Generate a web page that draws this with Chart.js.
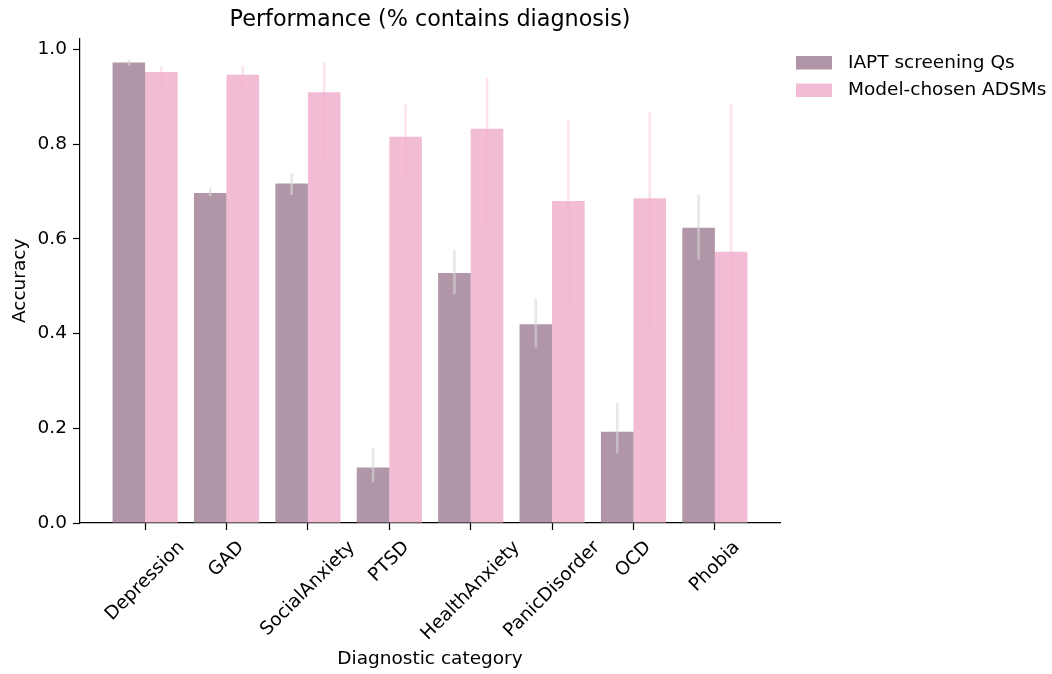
<!DOCTYPE html>
<html>
<head>
<meta charset="utf-8">
<script src="https://cdn.jsdelivr.net/npm/chart.js@4.4.1/dist/chart.umd.min.js"></script>
<style>
  html, body { margin: 0; padding: 0; background: #fff; }
</style>
</head>
<body>
<canvas id="grafico" width="1052" height="674"></canvas>
<script>
/* ============== Dados ===========*/
const categorias = ['Depression', 'GAD', 'SocialAnxiety', 'PTSD', 'HealthAnxiety', 'PanicDisorder', 'OCD', 'Phobia'];

const iapt = [0.973, 0.697, 0.717, 0.117, 0.528, 0.420, 0.193, 0.624];
const iaptLow = [0.966, 0.690, 0.693, 0.086, 0.484, 0.371, 0.147, 0.556];
const iaptHigh = [0.979, 0.709, 0.739, 0.158, 0.577, 0.474, 0.253, 0.693];

const adsm = [0.953, 0.947, 0.910, 0.816, 0.833, 0.680, 0.686, 0.573];
const adsmLow = [0.921, 0.918, 0.760, 0.726, 0.621, 0.448, 0.417, 0.189];
const adsmHigh = [0.965, 0.966, 0.973, 0.884, 0.941, 0.850, 0.869, 0.886];

const yTicks = [0.0, 0.2, 0.4, 0.6, 0.8, 1.0];

const fonte = "'DejaVu Sans', sans-serif";
const tam = 18.5;

/* ============== Plugins ===========*/
const erros = [
  { low: iaptLow, high: iaptHigh, color: 'rgba(215, 215, 215, 0.6)' },
  { low: adsmLow, high: adsmHigh, color: 'rgba(245, 175, 205, 0.35)' }
];

const errorBars = {
  id: 'errorBars',
  afterDatasetsDraw(chart) {
    const ctx = chart.ctx;
    const y = chart.scales.y;
    ctx.save();
    ctx.lineWidth = 2.6;
    erros.forEach((e, i) => {
      const meta = chart.getDatasetMeta(i);
      ctx.strokeStyle = e.color;
      meta.data.forEach((bar, j) => {
        ctx.beginPath();
        ctx.moveTo(bar.x, y.getPixelForValue(e.low[j]));
        ctx.lineTo(bar.x, y.getPixelForValue(e.high[j]));
        ctx.stroke();
      });
    });
    ctx.restore();
  }
};

// rotated labels centred on the tick, like matplotlib rotation=45
const xLabels = {
  id: 'xLabels',
  afterDraw(chart) {
    const ctx = chart.ctx;
    const x = chart.scales.x;
    const top = chart.chartArea.bottom + 15;
    ctx.save();
    ctx.font = tam + 'px ' + fonte;
    ctx.fillStyle = '#000';
    ctx.textAlign = 'center';
    ctx.textBaseline = 'middle';
    const h = tam;
    x.ticks.forEach(t => {
      const txt = categorias[t.value];
      const w = ctx.measureText(txt).width;
      const half = (w + h) * Math.SQRT1_2 / 2;
      ctx.save();
      ctx.translate(x.getPixelForValue(t.value), top + half);
      ctx.rotate(-Math.PI / 4);
      ctx.fillText(txt, 0, 0);
      ctx.restore();
    });
    ctx.restore();
  }
};

const legenda = {
  id: 'legenda',
  afterDraw(chart) {
    const ctx = chart.ctx;
    const x0 = chart.chartArea.right + 16;
    ctx.save();
    ctx.font = tam + 'px ' + fonte;
    ctx.textBaseline = 'middle';
    chart.data.datasets.forEach((ds, i) => {
      const y0 = 56 + i * 27.5;
      ctx.fillStyle = ds.backgroundColor;
      ctx.fillRect(x0, y0, 36, 13.5);
      ctx.fillStyle = '#000';
      ctx.fillText(ds.label, x0 + 52, y0 + 7);
    });
    ctx.restore();
  }
};

/* ============== Grafico ===========*/
const graf = document.getElementById('grafico');

const data = {
  datasets: [{
    label: 'IAPT screening Qs',
    data: iapt.map((v, i) => ({ x: i, y: v })),
    backgroundColor: '#b096a7',
    categoryPercentage: 0.8,
    barPercentage: 1.0
  }, {
    label: 'Model-chosen ADSMs',
    data: adsm.map((v, i) => ({ x: i, y: v })),
    backgroundColor: '#f2bcd5',
    categoryPercentage: 0.8,
    barPercentage: 1.0
  }]
};

const eixo = {
  grid: { display: true, offset: false, drawOnChartArea: false, drawTicks: true, tickLength: 7, color: '#000', tickWidth: 1.2 },
  border: { display: true, color: '#000', width: 1.2 }
};

const config = {
  type: 'bar',
  data,
  options: {
    responsive: false,
    animation: false,
    events: [],
    devicePixelRatio: 1,
    layout: { padding: { left: 0, right: 272, top: 0, bottom: 0 } },
    plugins: {
      legend: { display: false },
      tooltip: { enabled: false },
      title: {
        display: true,
        text: 'Performance (% contains diagnosis)',
        color: '#000',
        fullSize: false,
        font: { family: fonte, size: 22.3, weight: 'normal' },
        padding: { top: 7, bottom: 5 }
      }
    },
    scales: {
      x: {
        ...eixo,
        type: 'linear',
        min: -0.8,
        max: 7.8,
        offset: false,
        afterBuildTicks: s => { s.ticks = categorias.map((c, i) => ({ value: i })); },
        afterFit: s => { s.height = 151; },
        ticks: { display: false },
        title: {
          display: true,
          text: 'Diagnostic category',
          color: '#000',
          font: { family: fonte, size: tam },
          padding: { top: 0, bottom: 4 }
        }
      },
      y: {
        ...eixo,
        min: 0,
        max: 1.023,
        afterBuildTicks: s => { s.ticks = yTicks.map(v => ({ value: v })); },
        afterFit: s => { s.width = 80; },
        ticks: {
          color: '#000',
          padding: 6,
          font: { family: fonte, size: tam },
          callback: v => v.toFixed(1)
        },
        title: {
          display: true,
          text: 'Accuracy',
          color: '#000',
          font: { family: fonte, size: tam },
          padding: { top: 9, bottom: 0 }
        }
      }
    }
  },
  plugins: [errorBars, xLabels, legenda]
};

const myChart = new Chart(graf, config);
</script>
</body>
</html>
